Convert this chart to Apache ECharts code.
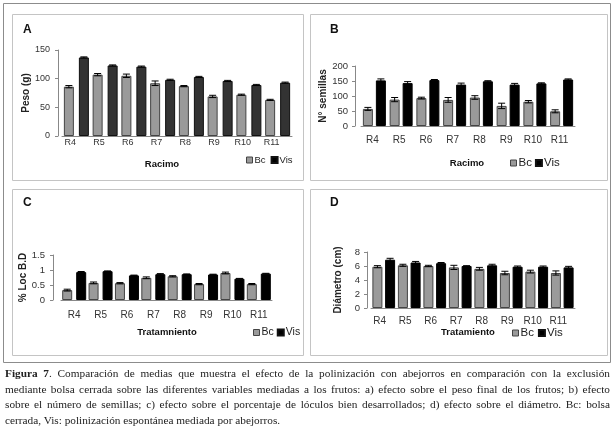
<!DOCTYPE html>
<html><head><meta charset="utf-8">
<script src="https://cdn.jsdelivr.net/npm/echarts@6/dist/echarts.min.js"></script>
<style>
html,body{margin:0;padding:0;background:#fff;}
#chart{position:absolute;left:0;top:0;width:614px;height:438px;}
#cap{position:absolute;left:5px;top:366px;width:605px;font-family:'Liberation Serif','DejaVu Serif',serif;font-size:11.3px;line-height:15.5px;color:#222;}
#cap .j{text-align:justify;text-align-last:justify;}
</style>
</head><body>
<div id="chart"></div>
<div id="cap">
<div class="j"><b>Figura 7</b>. Comparación de medias que muestra el efecto de la polinización con abejorros en comparación con la exclusión</div>
<div class="j">mediante bolsa cerrada sobre las diferentes variables mediadas a los frutos: a) efecto sobre el peso final de los frutos; b) efecto</div>
<div class="j">sobre el número de semillas; c) efecto sobre el porcentaje de lóculos bien desarrollados; d) efecto sobre el diámetro. Bc: bolsa</div>
<div>cerrada, Vis: polinización espontánea mediada por abejorros.</div>
</div>
<script>
const categories = ['R4','R5','R6','R7','R8','R9','R10','R11'];
const pesoBc = [86,107,105,92,87,69,72,63];
const pesoBcErr = [2,2,3,4,1,2,1,1];
const pesoVis = [137,123,121,98,103,96,89,93];
const pesoVisErr = [1,1,1,1,1,1,1,1];
const semBc = [57,88,93,87,95,67,81,49];
const semBcErr = [5,7,3,8,6,9,4,5];
const semVis = [152,143,153,138,149,138,142,155];
const semVisErr = [5,5,2,5,2,4,2,2];
const locBc = [0.33,0.57,0.56,0.74,0.79,0.53,0.90,0.53];
const locBcErr = [0.03,0.03,0.02,0.03,0.02,0.02,0.03,0.02];
const locVis = [0.93,0.96,0.82,0.86,0.86,0.85,0.71,0.88];
const locVisErr = [0.02,0.01,0.01,0.02,0.01,0.01,0.01,0.01];
const diamBc = [5.9,6.1,6.0,5.8,5.6,5.0,5.2,5.0];
const diamBcErr = [0.15,0.15,0.1,0.3,0.2,0.25,0.2,0.3];
const diamVis = [6.9,6.5,6.4,6.0,6.1,5.9,5.9,5.8];
const diamVisErr = [0.2,0.15,0.1,0.05,0.15,0.1,0.1,0.15];

const FF = "'Liberation Sans', Arial, sans-serif";
const bcStyle = {color:'#9a9a9a', borderColor:'#444', borderWidth:1};
const visStyleA = {color:'#333', borderColor:'#111', borderWidth:1};
const visStyle = {color:'#000', borderColor:'#000', borderWidth:1};

const panels = [
  {grid:{left:62, top:50, width:230, height:86}, bw:10, gap:0.5, yOff:4, max:150, interval:50,
   yName:'Peso (g)', nameGap:27, yFont:9, xFont:9, xMargin:2, xPad:[0,12,0,0], yMargin:8,
   bc:pesoBc, bcErr:pesoBcErr, vis:pesoVis, visErr:pesoVisErr, visStyle:visStyleA},
  {grid:{left:361, top:66, width:214, height:60}, bw:10, gap:0.3, yOff:6, max:200, interval:50,
   yName:'N° semillas', nameGap:21, yFont:9.5, xFont:10, xMargin:9, xPad:[0,4,0,0], yMargin:7,
   bc:semBc, bcErr:semBcErr, vis:semVis, visErr:semVisErr, visStyle:visStyle},
  {grid:{left:61, top:255, width:211, height:45}, bw:10, gap:0.4, yOff:8, max:1.5, interval:0.5,
   yName:'% Loc B.D', nameGap:16, yFont:9.5, xFont:10, xMargin:10, xPad:[0,0,0,0], yMargin:8,
   bc:locBc, bcErr:locBcErr, vis:locVis, visErr:locVisErr, visStyle:visStyle},
  {grid:{left:371, top:252, width:204, height:56}, bw:10, gap:0.27, yOff:4, max:8, interval:2,
   yName:'Diámetro (cm)', nameGap:24, yFont:9.5, xFont:10, xMargin:8, xPad:[0,8,0,0], yMargin:7,
   bc:diamBc, bcErr:diamBcErr, vis:diamVis, visErr:diamVisErr, visStyle:visStyle}
];

function errSeries(idx, vals, errs, side, bw, gapPx) {
  return {
    type:'custom', name:'err'+idx+'_'+side, xAxisIndex:idx, yAxisIndex:idx, z:10,
    data: vals.map((v,i)=>[i, v, errs[i]]),
    encode:{x:0, y:1},
    renderItem:(params, api) => {
      const i = api.value(0), v = api.value(1), e = api.value(2);
      const c = api.coord([i, v]);
      const x = c[0] + side*(bw+gapPx)/2;
      const top = api.coord([i, v+e])[1];
      const bot = api.coord([i, v-e])[1];
      const cap = 3.5;
      const st = {stroke:'#000', lineWidth:1};
      return {type:'group', children:[
        {type:'line', shape:{x1:x,y1:top,x2:x,y2:bot}, style:st},
        {type:'line', shape:{x1:x-cap,y1:top,x2:x+cap,y2:top}, style:st},
        {type:'line', shape:{x1:x-cap,y1:bot,x2:x+cap,y2:bot}, style:st}
      ]};
    }
  };
}

const grids = [], xAxes = [], yAxes = [], series = [];
panels.forEach((p, idx) => {
  grids.push(Object.assign({containLabel:false}, p.grid));
  xAxes.push({type:'category', gridIndex:idx, data:categories,
    axisLine:{lineStyle:{color:'#888'}}, axisTick:{show:false},
    axisLabel:{fontSize:p.xFont, color:'#333', fontFamily:FF, margin:p.xMargin, padding:p.xPad, interval:0}});
  yAxes.push({type:'value', gridIndex:idx, min:0, max:p.max, interval:p.interval, offset:p.yOff,
    axisLine:{show:true, lineStyle:{color:'#888'}}, axisTick:{show:true, length:3, lineStyle:{color:'#888'}},
    splitLine:{show:false},
    axisLabel:{fontSize:p.yFont, color:'#333', fontFamily:FF, margin:p.yMargin},
    name:p.yName, nameLocation:'middle', nameGap:p.nameGap,
    nameTextStyle:{fontSize:10, fontWeight:'bold', color:'#222', fontFamily:FF}});
  series.push({type:'bar', name:'Bc', xAxisIndex:idx, yAxisIndex:idx, data:p.bc,
    barWidth:p.bw, barGap:(p.gap*100)+'%', itemStyle:bcStyle});
  series.push({type:'bar', name:'Vis', xAxisIndex:idx, yAxisIndex:idx, data:p.vis,
    barWidth:p.bw, barGap:(p.gap*100)+'%', itemStyle:p.visStyle});
  series.push(errSeries(idx, p.bc, p.bcErr, -1, p.bw, p.gap*p.bw));
  series.push(errSeries(idx, p.vis, p.visErr, 1, p.bw, p.gap*p.bw));
});

function legend(left, top, fs, gap) {
  return {left:left, top:top, itemWidth:6, itemHeight:6, itemGap:gap, icon:'rect', padding:0,
    textStyle:{fontSize:fs, color:'#222', fontFamily:FF, padding:[0,0,0,-3]},
    data:[{name:'Bc', itemStyle:bcStyle}, {name:'Vis', itemStyle:{color:'#000'}}],
    selectedMode:false};
}

function txt(x, y, text, font, align) {
  return {type:'text', x:x, y:y, silent:true,
    style:{text:text, font:font, fill:'#111', align:align||'center', verticalAlign:'middle'}};
}
function box(x, y, w, h, c) {
  return {type:'rect', silent:true, shape:{x:x, y:y, width:w, height:h},
    style:{fill:null, stroke:c, lineWidth:1}};
}

const option = {
  animation:false,
  grid:grids, xAxis:xAxes, yAxis:yAxes, series:series,
  legend:[legend(246, 155, 9.5, 5), legend(510, 157, 11.5, 3), legend(253, 327, 10.5, 3), legend(512, 327, 11.5, 4)],
  graphic:[
    box(3.5, 3.5, 607, 359, '#8c8c8c'),
    box(12.5, 14.5, 291, 166, '#c4c4c4'),
    box(310.5, 14.5, 297, 166, '#c4c4c4'),
    box(12.5, 189.5, 291, 166, '#c4c4c4'),
    box(310.5, 189.5, 297, 166, '#c4c4c4'),
    txt(23, 30, 'A', "bold 12px 'Liberation Sans', Arial", 'left'),
    txt(330, 30, 'B', "bold 12px 'Liberation Sans', Arial", 'left'),
    txt(23, 203, 'C', "bold 12px 'Liberation Sans', Arial", 'left'),
    txt(330, 203, 'D', "bold 12px 'Liberation Sans', Arial", 'left'),
    txt(162, 164, 'Racimo', "bold 9.5px 'Liberation Sans', Arial"),
    txt(467, 163, 'Racimo', "bold 9.5px 'Liberation Sans', Arial"),
    txt(167, 332, 'Tratamniento', "bold 9.5px 'Liberation Sans', Arial"),
    txt(468, 332, 'Tratamiento', "bold 9.5px 'Liberation Sans', Arial")
  ]
};
const chart = echarts.init(document.getElementById('chart'), null, {renderer:'canvas'});
chart.setOption(option);
</script>
</body></html>
